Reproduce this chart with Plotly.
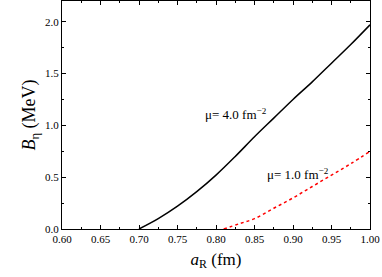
import plotly.graph_objects as go

x_mu4 = [0.70, 0.725, 0.75, 0.775, 0.80, 0.825, 0.85, 0.875, 0.90, 0.925, 0.95, 0.975, 1.00]
y_mu4 = [0.00, 0.10, 0.22, 0.36, 0.52, 0.70, 0.89, 1.07, 1.25, 1.42, 1.60, 1.78, 1.97]
x_mu1 = [0.81, 0.83, 0.85, 0.875, 0.90, 0.925, 0.95, 0.975, 1.00]
y_mu1 = [0.00, 0.05, 0.10, 0.20, 0.30, 0.41, 0.52, 0.63, 0.75]
label_mu4 = "μ= 4.0 fm<sup>−2</sup>"
label_mu1 = "μ= 1.0 fm<sup>−2</sup>"

fig = go.Figure()
fig.add_trace(go.Scatter(x=x_mu4, y=y_mu4, mode="lines", line=dict(color="black", width=1.5, shape="spline")))
fig.add_trace(go.Scatter(x=x_mu1, y=y_mu1, mode="lines", line=dict(color="red", width=1.5, dash="dot", shape="spline")))

fig.add_annotation(x=0.826, y=1.11, text=label_mu4, showarrow=False, font=dict(family="Liberation Serif", size=13, color="black"))
fig.add_annotation(x=0.906, y=0.53, text=label_mu1, showarrow=False, font=dict(family="Liberation Serif", size=13, color="black"))

axis_common = dict(showgrid=False, zeroline=False, showline=True, linecolor="black", linewidth=1,
                   mirror="ticks", ticks="inside", ticklen=4, tickcolor="black", automargin=False,
                   ticklabeloverflow="allow",
                   tickfont=dict(family="Liberation Serif", size=11, color="black"))
fig.update_xaxes(range=[0.6, 1.0], dtick=0.05, tickformat=".2f",
                 minor=dict(ticks="inside", ticklen=2, dtick=0.025, tickcolor="black"),
                 title=dict(text="<i>a</i><sub>R</sub> (fm)", font=dict(family="Liberation Serif", size=17, color="black"), standoff=8),
                 **axis_common)
fig.update_yaxes(range=[0, 2.2], dtick=0.5, tickformat=".1f",
                 minor=dict(ticks="inside", ticklen=2, dtick=0.25, tickcolor="black"),
                 title=dict(text="<i>B</i><sub>η</sub> (MeV)", font=dict(family="Liberation Serif", size=18, color="black"), standoff=4),
                 **axis_common)
fig.update_layout(width=382, height=277, margin=dict(l=62, r=12, t=1, b=48),
                  plot_bgcolor="white", paper_bgcolor="white", showlegend=False)
fig.write_html("out.html", config={"displayModeBar": False}, post_script="document.body.style.margin='0';")
